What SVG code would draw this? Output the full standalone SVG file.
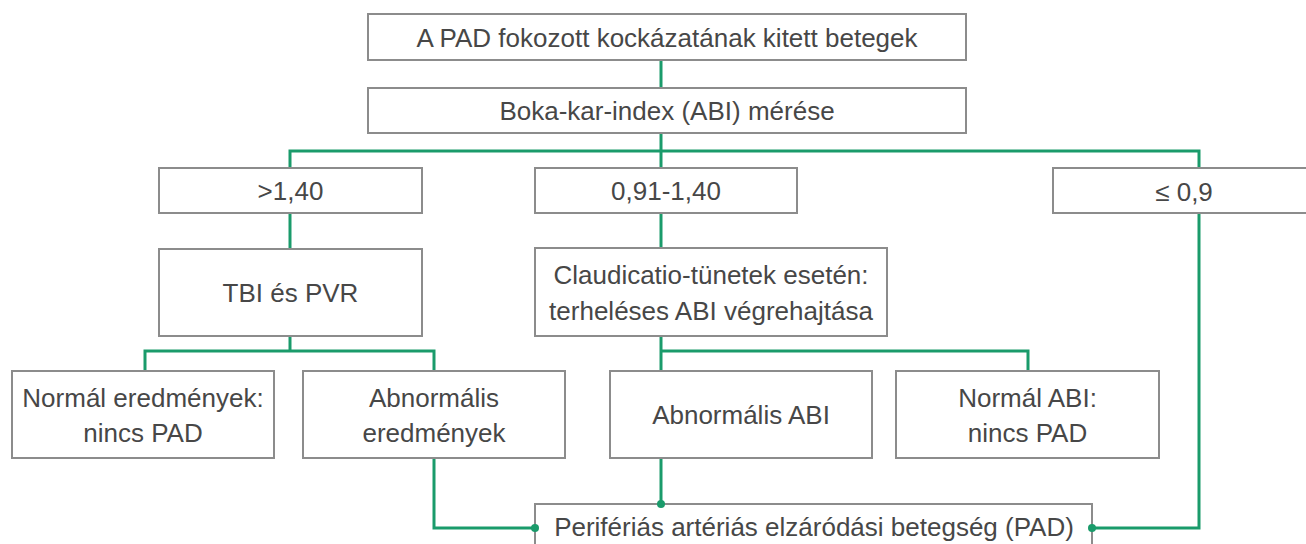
<svg xmlns="http://www.w3.org/2000/svg" width="1306" height="544" viewBox="0 0 1306 544">
<style>
.box{fill:#ffffff;stroke:#8c8c8c;stroke-width:2}
.t{font-family:"Liberation Sans",Arial,sans-serif;font-size:26px;fill:#474747;text-anchor:middle}
.c{fill:none;stroke:#1a9b6b;stroke-width:3}
.d{fill:#1a9b6b}
</style>
<rect width="1306" height="544" fill="#ffffff"/>
<g id="connectors">
<path class="c" d="M661,60 V88"/>
<path class="c" d="M661,133 V168"/>
<path class="c" d="M290,168 V151 H1199 V168"/>
<path class="c" d="M290,213 V249"/>
<path class="c" d="M661,213 V248"/>
<path class="c" d="M290,336 V351"/>
<path class="c" d="M145,371 V351 H434 V371"/>
<path class="c" d="M661,336 V371"/>
<path class="c" d="M661,351 H1028 V371"/>
<path class="c" d="M434,458 V528 H535"/>
<path class="c" d="M661,458 V504"/>
<path class="c" d="M1199,213 V528 H1092"/>
</g>
<g id="n1"><rect class="box" x="368" y="14" width="598" height="46"/><text class="t" x="667" y="46.5">A PAD fokozott kockázatának kitett betegek</text></g>
<g id="n2"><rect class="box" x="368" y="88" width="598" height="45"/><text class="t" x="667" y="120">Boka-kar-index (ABI) mérése</text></g>
<g id="n3"><rect class="box" x="159" y="168" width="263" height="45"/><text class="t" x="290.5" y="200">&gt;1,40</text></g>
<g id="n4"><rect class="box" x="535" y="168" width="262" height="45"/><text class="t" x="666" y="200">0,91-1,40</text></g>
<g id="n5"><rect class="box" x="1053" y="168" width="270" height="45"/><text class="t" x="1184" y="200.5">≤ 0,9</text></g>
<g id="n6"><rect class="box" x="159" y="249" width="263" height="87"/><text class="t" x="290.5" y="302">TBI és PVR</text></g>
<g id="n7"><rect class="box" x="535" y="248" width="352" height="88"/><text class="t" x="711" y="284">Claudicatio-tünetek esetén:</text><text class="t" x="711" y="319.5">terheléses ABI végrehajtása</text></g>
<g id="n8"><rect class="box" x="12" y="371" width="262" height="87"/><text class="t" x="143" y="406.5">Normál eredmények:</text><text class="t" x="143" y="442">nincs PAD</text></g>
<g id="n9"><rect class="box" x="303" y="371" width="262" height="87"/><text class="t" x="434" y="406.5">Abnormális</text><text class="t" x="434" y="442">eredmények</text></g>
<g id="n10"><rect class="box" x="610" y="371" width="262" height="87"/><text class="t" x="741" y="424">Abnormális ABI</text></g>
<g id="n11"><rect class="box" x="896" y="371" width="263" height="87"/><text class="t" x="1027.5" y="406.5">Normál ABI:</text><text class="t" x="1027.5" y="442">nincs PAD</text></g>
<g id="n12"><rect class="box" x="535" y="504" width="557" height="60"/><text class="t" x="814" y="536">Perifériás artériás elzáródási betegség (PAD)</text></g>
<g id="dots"><circle class="d" cx="535" cy="528" r="4"/><circle class="d" cx="661" cy="504" r="4"/><circle class="d" cx="1092" cy="528" r="4"/></g>
</svg>
